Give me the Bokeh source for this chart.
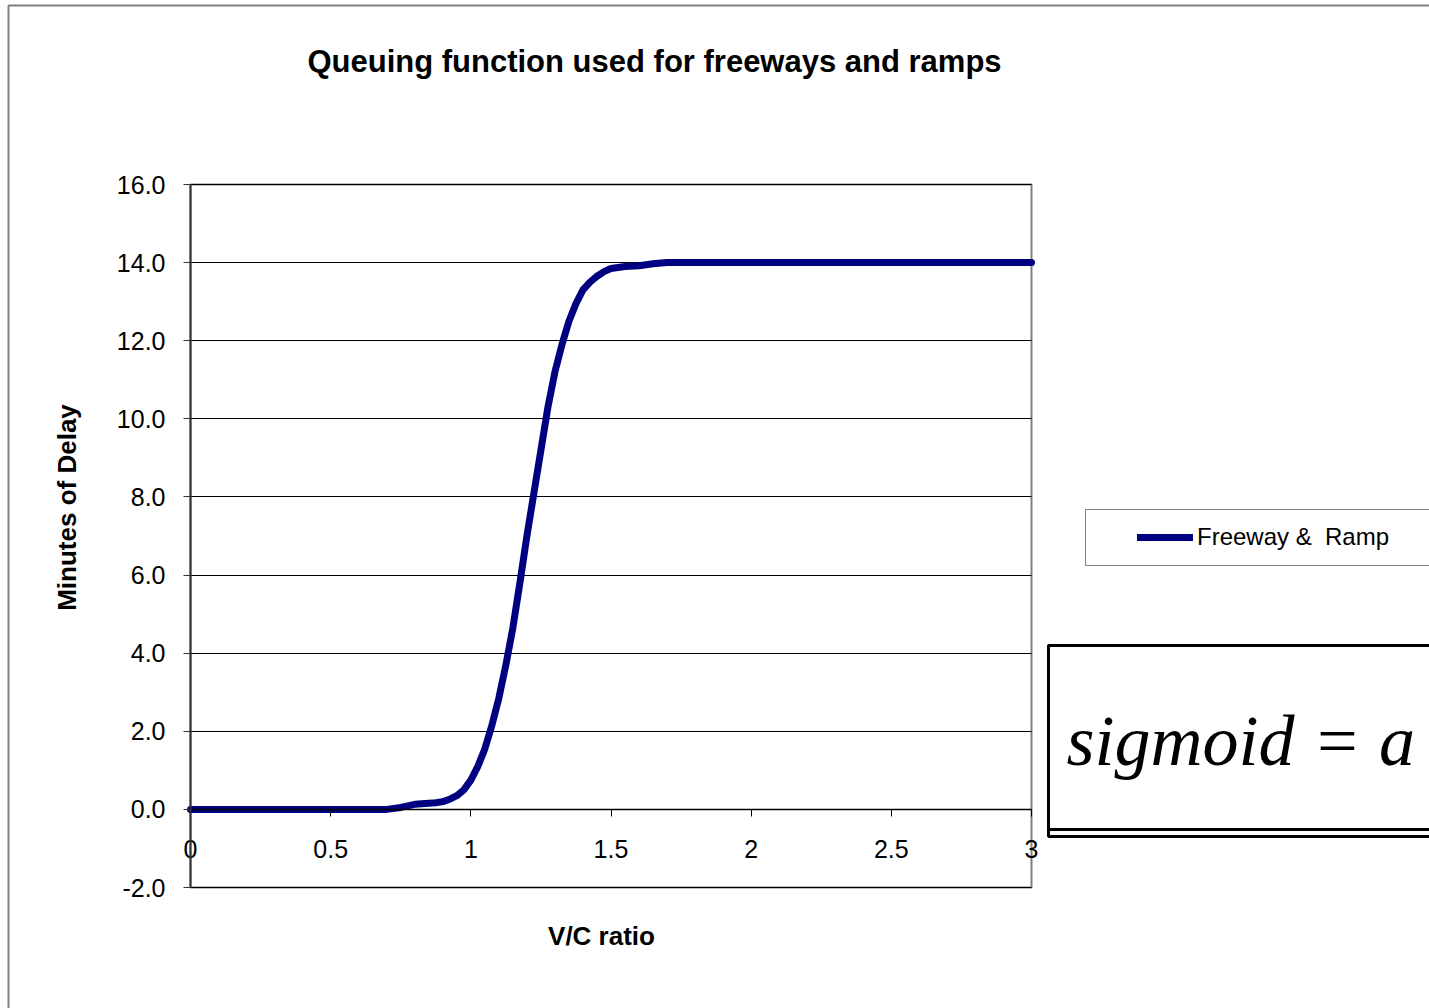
import math
from bokeh.plotting import figure
from bokeh.models import (Range1d, FixedTicker, NumeralTickFormatter, Label,
                          BoxAnnotation, Legend, LegendItem, Grid)
from bokeh.embed import file_html
from bokeh.resources import INLINE

# ---------------- data ----------------
vc_ratio = [0.0, 0.1, 0.2, 0.3, 0.4, 0.5, 0.6, 0.7, 0.75, 0.8, 0.85, 0.875,
            0.9, 0.925, 0.95, 0.975, 1.0, 1.025, 1.05, 1.075, 1.1, 1.125, 1.15,
            1.175, 1.2, 1.225, 1.25, 1.275, 1.3, 1.325, 1.35, 1.375, 1.4, 1.425,
            1.45, 1.475, 1.5, 1.55, 1.6, 1.65, 1.7, 1.8, 2.0, 2.5, 3.0]
delay = [0.0, 0.0, 0.0, 0.0, 0.0, 0.0, 0.0, 0.0, 0.05, 0.13, 0.16, 0.17,
         0.2, 0.26, 0.35, 0.5, 0.75, 1.1, 1.55, 2.15, 2.85, 3.7, 4.65,
         5.8, 7.0, 8.1, 9.2, 10.3, 11.2, 11.9, 12.5, 12.95, 13.3, 13.5,
         13.65, 13.77, 13.85, 13.9, 13.92, 13.97, 14.0, 14.0, 14.0, 14.0, 14.0]
y_ticks = [-2, 0, 2, 4, 6, 8, 10, 12, 14, 16]
x_ticks = [0, 0.5, 1, 1.5, 2, 2.5, 3]
series_name = "Freeway &  Ramp"
title_text = "Queuing function used for freeways and ramps"
x_title = "V/C ratio"
y_title = "Minutes of Delay"
formula_text = "sigmoid = a"

# ---------------- layout ----------------
W, H = 1429, 1008
L, R, T, B = 190, 1031, 184, 887          # plot-area pixel box
X0, X1 = 0.0, 3.0
Y0, Y1 = -2.0, 16.0


def sx(px):
    return X0 + (px - L) * (X1 - X0) / (R - L)


def sy(py):
    return Y1 - (py - T) * (Y1 - Y0) / (B - T)


FONT = "Liberation Sans"
GRAY = "#808080"

# the frame covers the whole canvas; the plot area is mapped inside it
p = figure(width=W, height=H, x_range=Range1d(sx(0), sx(W)),
           y_range=Range1d(sy(H), sy(0)),
           output_backend="svg", toolbar_location=None,
           min_border=0, min_border_left=0, min_border_right=0,
           min_border_top=0, min_border_bottom=0)
p.background_fill_color = "white"
p.border_fill_color = "white"
p.outline_line_color = None


def box(left, right, top, bottom, color, width, level="annotation"):
    return BoxAnnotation(left=left, right=right, top=top, bottom=bottom,
                         fill_color=None, fill_alpha=0, line_color=color,
                         line_alpha=1.0, line_width=width, level=level)


# outer chart frame
p.add_layout(box(sx(8), sx(4000), sy(5), sy(4000), GRAY, 2, "underlay"))
# plot-area border
p.add_layout(box(X0, X1, Y1, Y0, GRAY, 2, "underlay"))

# grid (inner lines only; the outer ones are the plot-area border)
p.xgrid.visible = False
p.ygrid.visible = False
g = Grid(dimension=1, ticker=FixedTicker(ticks=y_ticks), bounds=(Y0 + 1, Y1 - 1),
         grid_line_color="black", grid_line_width=1)
if "cross_bounds" in Grid.properties():
    g.cross_bounds = (X0, X1)
p.add_layout(g)

# y axis
ya = p.yaxis[0]
ya.fixed_location = X0
ya.bounds = (Y0, Y1)
ya.ticker = FixedTicker(ticks=y_ticks)
ya.formatter = NumeralTickFormatter(format="0.0")
ya.axis_line_color = "#333333"
ya.axis_line_width = 2
ya.major_tick_line_color = "#333333"
ya.major_tick_out = 7
ya.major_tick_in = 0
ya.minor_tick_line_color = None
ya.major_label_standoff = 18
ya.major_label_text_font = FONT
ya.major_label_text_font_size = "25px"
ya.major_label_text_color = "black"

# x axis, crossing at y = 0
xa = p.xaxis[0]
xa.fixed_location = 0
xa.bounds = (X0, X1)
xa.ticker = FixedTicker(ticks=x_ticks)
xa.formatter = NumeralTickFormatter(format="0.[0]")
xa.axis_line_color = "black"
xa.axis_line_width = 1.5
xa.major_tick_line_color = "black"
xa.major_tick_out = 7
xa.major_tick_in = 0
xa.minor_tick_line_color = None
xa.major_label_standoff = 24
xa.major_label_text_font = FONT
xa.major_label_text_font_size = "25px"
xa.major_label_text_color = "black"

# axis titles
p.add_layout(Label(x=sx(66), y=sy(507), text=y_title, angle=math.pi / 2,
                   text_align="center", text_baseline="middle", text_font=FONT,
                   text_font_style="bold", text_font_size="26px",
                   text_color="black"))
p.add_layout(Label(x=sx(601), y=sy(935), text=x_title, text_align="center",
                   text_baseline="middle", text_font=FONT,
                   text_font_style="bold", text_font_size="26px",
                   text_color="black"))

# series
r = p.line(vc_ratio, delay, line_color="#000080", line_width=7,
           line_cap="round", line_join="round")

# title
p.add_layout(Label(x=sx(654), y=sy(61), text=title_text, text_align="center",
                   text_baseline="middle", text_font=FONT, text_font_style="bold",
                   text_font_size="31px", text_color="black"))

# legend box + legend
p.add_layout(box(sx(1085), sx(4000), sy(509), sy(565), GRAY, 1))
legend = Legend(items=[LegendItem(label=series_name, renderers=[r])],
                location=(1137, H - 551), padding=0, margin=0,
                glyph_width=56, glyph_height=28, label_height=28,
                label_standoff=4, border_line_alpha=0, background_fill_alpha=0,
                label_text_font=FONT, label_text_font_size="24px",
                label_text_color="black")
p.add_layout(legend, "center")

# formula box (double bottom rule)
p.add_layout(box(sx(1048), sx(4000), sy(645), sy(836), "black", 3))
p.add_layout(box(sx(1048), sx(4000), sy(645), sy(829), "black", 3))
p.add_layout(Label(x=sx(1066), y=sy(740), text=formula_text, text_align="left",
                   text_baseline="alphabetic", text_font="Liberation Serif",
                   text_font_style="italic", text_font_size="72px",
                   text_color="black"))

open("out.html", "w").write(file_html(p, INLINE))
